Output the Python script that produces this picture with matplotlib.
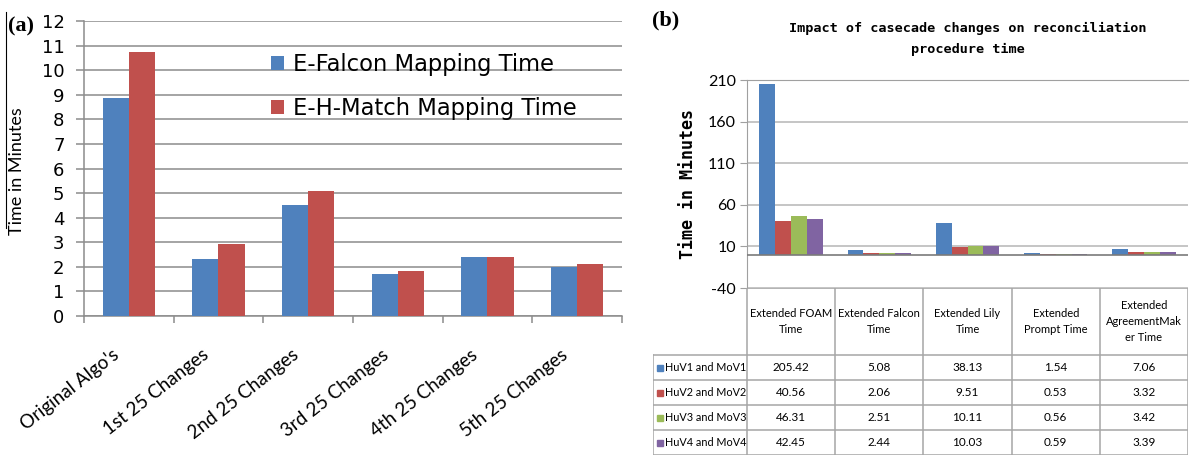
import numpy as np
import matplotlib
matplotlib.use('Agg')
import matplotlib.pyplot as plt
from matplotlib.lines import Line2D

plt.rcParams['axes.unicode_minus'] = False

# ---- data: panel (a)
stages = ["Original Algo's", "1st 25 Changes", "2nd 25 Changes",
          "3rd 25 Changes", "4th 25 Changes", "5th 25 Changes"]
falcon_time = [8.85, 2.31, 4.53, 1.71, 2.39, 2.00]
hmatch_time = [10.73, 2.93, 5.08, 1.83, 2.39, 2.10]

# ---- data: panel (b)
tools = ["Extended FOAM\nTime", "Extended Falcon\nTime", "Extended Lily\nTime",
         "Extended\nPrompt Time", "Extended\nAgreementMak\ner Time"]
pairs = ["HuV1 and MoV1", "HuV2 and MoV2", "HuV3 and MoV3", "HuV4 and MoV4"]
huv1 = [205.42, 5.08, 38.13, 1.54, 7.06]
huv2 = [40.56, 2.06, 9.51, 0.53, 3.32]
huv3 = [46.31, 2.51, 10.11, 0.56, 3.42]
huv4 = [42.45, 2.44, 10.03, 0.59, 3.39]
b_ticks = [-40, 10, 60, 110, 160, 210]

BLUE, RED, GREEN, PURPLE = '#4F81BD', '#C0504D', '#9BBB59', '#8064A2'
GRID = '#8c8c8c'
W, H = 1190, 457

fig = plt.figure(figsize=(W / 100, H / 100), dpi=100)
fig.patch.set_facecolor('white')

# ================= panel (a)
ax1 = fig.add_axes([84 / W, (H - 316) / H, 538 / W, 295 / H])
x = np.arange(len(stages))
bw = 0.29
ax1.bar(x - bw / 2, falcon_time, bw, color=BLUE, label='E-Falcon Mapping Time', zorder=3)
ax1.bar(x + bw / 2, hmatch_time, bw, color=RED, label='E-H-Match Mapping Time', zorder=3)
ax1.set_xlim(-0.5, len(stages) - 0.5)
ax1.set_ylim(0, 12)
ax1.set_yticks(range(0, 13))
ax1.yaxis.grid(True, color=GRID, lw=1.1)
ax1.set_axisbelow(True)
for s in ['top', 'right']:
    ax1.spines[s].set_visible(False)
for s in ['left', 'bottom']:
    ax1.spines[s].set_color(GRID)
    ax1.spines[s].set_linewidth(1.1)
# label anchors sit a bit left of the group centres, like the original
ax1.set_xticks(x - 0.13)
ax1.set_xticklabels(stages, rotation=38, ha='right', va='center',
                    rotation_mode='anchor', fontsize=13.5, family='Lato')
ax1.set_xticks(np.arange(-0.5, len(stages)), minor=True)
ax1.tick_params(axis='x', which='major', length=0, pad=26.5)
ax1.tick_params(axis='x', which='minor', length=5, color=GRID, width=1.1)
ax1.tick_params(axis='y', length=6, color=GRID, width=1.1, labelsize=13, pad=8)
ax1.set_ylabel('Time in Minutes', fontsize=13, family='Lato')
ax1.yaxis.set_label_coords(-0.110, 0.49)
ax1.legend(loc='upper left', bbox_to_anchor=(0.31, 0.96), frameon=False,
           prop={'family': 'DejaVu Sans', 'size': 16.3}, handlelength=0.57,
           handleheight=0.57, labelspacing=0.9, handletextpad=0.4)

# ================= panel (b)
ax2 = fig.add_axes([747 / W, (H - 288) / H, 441 / W, 208 / H])
xb = np.arange(len(tools))
w = 0.18
for k, (vals, c) in enumerate(zip([huv1, huv2, huv3, huv4], [BLUE, RED, GREEN, PURPLE])):
    ax2.bar(xb + (k - 1.5) * w, vals, w, color=c, zorder=3)
ax2.axhline(0, color='#7a7a7a', lw=1.2, zorder=4)
ax2.set_xlim(-0.5, len(tools) - 0.5)
ax2.set_ylim(min(b_ticks), max(b_ticks))
ax2.set_yticks(b_ticks)
ax2.yaxis.grid(True, color='#b5b5b5', lw=1.1)
ax2.set_axisbelow(True)
ax2.set_xticks([])
ax2.spines['right'].set_visible(False)
ax2.spines['bottom'].set_visible(False)
for s in ['left', 'top']:
    ax2.spines[s].set_color('#a0a0a0')
ax2.tick_params(axis='y', length=5, color='#a0a0a0', labelsize=11.5, pad=3)
for lab in ax2.get_yticklabels():
    lab.set_family('Lato')
ax2.set_ylabel('Time in Minutes', fontsize=12, family='DejaVu Sans Mono',
               fontweight='bold')
ax2.yaxis.set_label_coords(-0.113, 0.5)

# ---- data table under panel (b)
colw = 441 / len(tools)
lab_w = (747 - 653) / colw
ax3 = fig.add_axes([653 / W, (H - 455) / H, (1188 - 653) / W, 167 / H])
ax3.set_xlim(-0.5 - lab_w, len(tools) - 0.5)
ax3.set_ylim(167, 0)
ax3.axis('off')
TL = '#a6a6a6'
hdr, rh = 67, 25
ax3.plot([-0.5, len(tools) - 0.5], [0, 0], color=TL, lw=1.2)
for r in range(len(pairs) + 1):
    y = hdr + r * rh
    ax3.plot([-0.5 - lab_w, len(tools) - 0.5], [y, y], color=TL, lw=1.1)
for c in range(len(tools) + 1):
    ax3.plot([c - 0.5, c - 0.5], [0, hdr + len(pairs) * rh], color=TL, lw=1.1)
ax3.plot([-0.5 - lab_w] * 2, [hdr, hdr + len(pairs) * rh], color=TL, lw=1.1)
for c, t in enumerate(tools):
    ax3.text(c, hdr / 2, t, ha='center', va='center', fontsize=8,
             family='Lato', linespacing=1.6)
for r, (name, vals, col) in enumerate(zip(pairs, [huv1, huv2, huv3, huv4],
                                          [BLUE, RED, GREEN, PURPLE])):
    yc = hdr + rh * (r + 0.5)
    ax3.plot(-0.5 - lab_w + 0.08, yc, 's', color=col, ms=5)
    ax3.text(-0.5 - lab_w + 0.14, yc, name, ha='left', va='center',
             fontsize=7.8, family='Lato')
    for c, v in enumerate(vals):
        ax3.text(c, yc, f'{v:.2f}', ha='center', va='center', fontsize=8.5,
                 family='Lato')

# ---- titles / panel letters
fig.text(968 / W, 1 - 39 / H,
         'Impact of casecade changes on reconciliation\nprocedure time',
         ha='center', va='center', fontsize=9.7, family='DejaVu Sans Mono',
         fontweight='bold', linespacing=1.85)
fig.text(8 / W, 1 - 26 / H, '(a)', ha='left', va='center', fontsize=16,
         family='Liberation Serif', fontweight='bold')
fig.text(652 / W, 1 - 20 / H, '(b)', ha='left', va='center', fontsize=16,
         family='Liberation Serif', fontweight='bold')
fig.add_artist(Line2D([6 / W, 6 / W], [1 - 12 / H, 1 - 228 / H], color='black', lw=0.8))

fig.savefig('out.png', dpi=100)
